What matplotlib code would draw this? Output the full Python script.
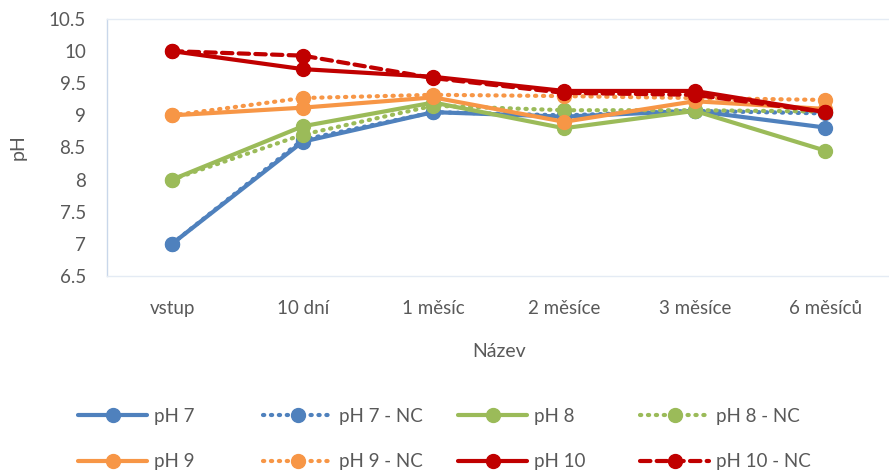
import matplotlib.pyplot as plt

plt.rcParams['font.family'] = ['Lato', 'DejaVu Sans']

categories = ['vstup', '10 dní', '1 měsíc', '2 měsíce', '3 měsíce', '6 měsíců']

ph7 = [7.0, 8.59, 9.05, 8.98, 9.07, 8.81]
ph7_nc = [7.0, 8.62, 9.05, 9.0, 9.07, 9.03]
ph8 = [8.0, 8.83, 9.2, 8.8, 9.07, 8.45]
ph8_nc = [8.0, 8.7, 9.15, 9.08, 9.08, 9.06]
ph9 = [9.0, 9.12, 9.28, 8.9, 9.22, 9.1]
ph9_nc = [9.0, 9.27, 9.32, 9.3, 9.27, 9.24]
ph10 = [10.0, 9.72, 9.6, 9.38, 9.38, 9.05]
ph10_nc = [10.0, 9.93, 9.58, 9.35, 9.32, 9.05]

BLUE = '#4F81BD'
GREEN = '#9BBB59'
ORANGE = '#F79646'
RED = '#C00000'
TEXT = '#595959'

DOT = (0, (0.3, 1.6))
DASH = (0, (2.5, 1.5))

series = [
    ('pH 7', ph7, BLUE, '-'),
    ('pH 7 - NC', ph7_nc, BLUE, DOT),
    ('pH 8', ph8, GREEN, '-'),
    ('pH 8 - NC', ph8_nc, GREEN, DOT),
    ('pH 9', ph9, ORANGE, '-'),
    ('pH 9 - NC', ph9_nc, ORANGE, DOT),
    ('pH 10', ph10, RED, '-'),
    ('pH 10 - NC', ph10_nc, RED, DASH),
]

fig = plt.figure(figsize=(8.89, 4.75), dpi=100)
ax = fig.add_axes([0.12, 0.419, 0.882, 0.541])

x = list(range(len(categories)))
handles = {}
for label, vals, color, ls in series:
    line, = ax.plot(x, vals, color=color, linestyle=ls, linewidth=3,
                    marker='o', markersize=10, label=label,
                    dash_capstyle='round', solid_capstyle='round')
    handles[label] = line

ax.set_xlim(-0.5, len(categories) - 0.5)
ax.set_ylim(6.5, 10.5)
ax.set_yticks([6.5, 7, 7.5, 8, 8.5, 9, 9.5, 10, 10.5])
ax.set_yticklabels(['6.5', '7', '7.5', '8', '8.5', '9', '9.5', '10', '10.5'])
ax.set_xticks(x)
ax.set_xticklabels(categories)
ax.tick_params(length=0, labelsize=13.5, colors=TEXT)
ax.tick_params(axis='y', pad=15)
ax.tick_params(axis='x', pad=17)

for sp in ax.spines.values():
    sp.set_color('#E4EBF4')
    sp.set_linewidth(1)
ax.spines['left'].set_color('#C9D7EA')

ax.set_xlabel('Název', fontsize=14, color=TEXT, labelpad=19)
ax.set_ylabel('pH', fontsize=14, color=TEXT, labelpad=16)

# one small legend per column so the columns sit at fixed positions
legend_cols = [
    (['pH 7', 'pH 9'], 78),
    (['pH 7 - NC', 'pH 9 - NC'], 263),
    (['pH 8', 'pH 10'], 458),
    (['pH 8 - NC', 'pH 10 - NC'], 640),
]
W, H = 889, 475
for labels, px in legend_cols:
    leg = fig.legend([handles[k] for k in labels], labels,
                     loc='center left', bbox_to_anchor=(px / W, 1 - 439 / H),
                     frameon=False, fontsize=13.5, handlelength=3.7,
                     handletextpad=0.35, labelspacing=1.5,
                     borderpad=0, borderaxespad=0)
    for t in leg.get_texts():
        t.set_color(TEXT)

fig.savefig('out.png', dpi=100)
